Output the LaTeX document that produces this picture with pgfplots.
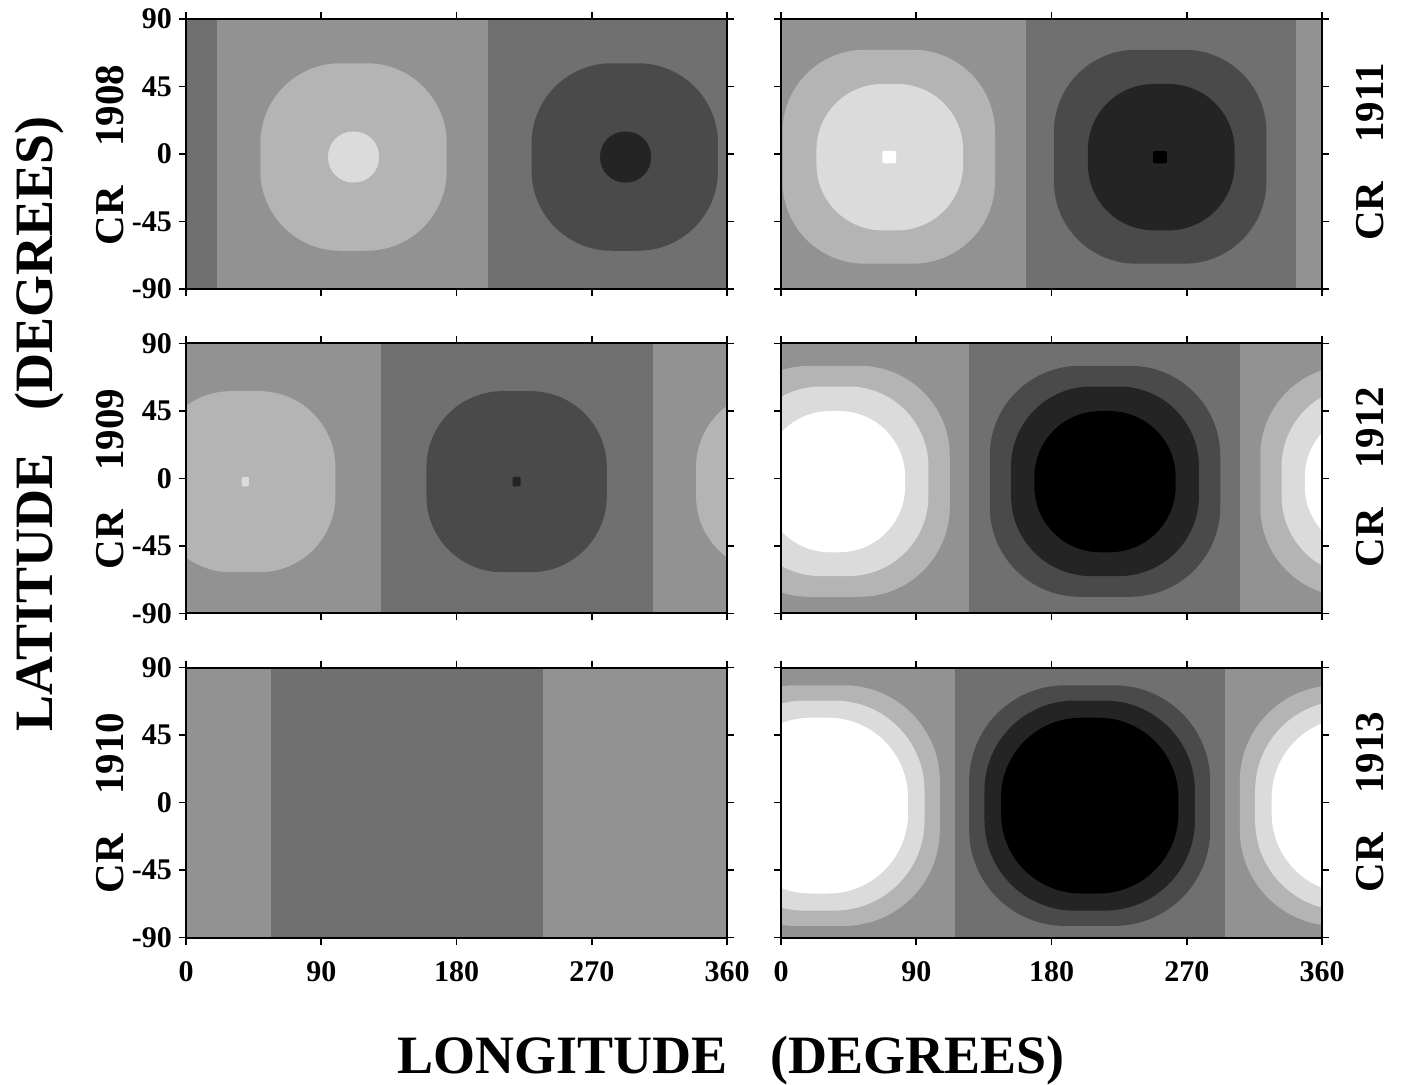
\documentclass[border=0pt]{standalone}
\usepackage{pgfplots}
\pgfplotsset{compat=1.18}
\usepackage{fontspec}
\setmainfont{Liberation Serif}
\definecolor{gA}{gray}{0.44}
\definecolor{gB}{gray}{0.573}
\definecolor{gC}{gray}{0.706}
\definecolor{gD}{gray}{0.86}
\definecolor{gE}{gray}{0.29}
\definecolor{gF}{gray}{0.14}
\newcommand{\rr}[3]{\addplot[draw=none, fill=#1, rounded corners=#2] coordinates {#3};}
\newcommand{\band}[2]{\addplot[draw=none, fill=#1] coordinates {#2};}
\pgfplotsset{
 panel/.style={scale only axis, width=270.5pt, height=135pt,
   xmin=0, xmax=360, ymin=-90, ymax=90,
   xtick={0,90,180,270,360}, ytick={-90,-45,0,45,90},
   xticklabels={}, yticklabels={},
   tick align=outside, major tick length=3.5pt, axis on top,
   axis line style={line width=0.9pt},
   every tick/.style={black, line width=0.8pt},
   tick label style={font=\bfseries\fontsize{15}{17}\selectfont},
   xticklabel style={yshift=-5pt},
   anchor=south west},
 xlab/.style={xticklabels={0,90,180,270,360}},
 ylab/.style={yticklabels={-90,-45,0,45,90}},
}
\begin{document}
\begin{tikzpicture}
\path (0,0) rectangle (704pt,-542pt);
% ---------- CR 1908 ----------
\begin{axis}[panel, ylab, at={(93pt,-144.5pt)}, axis background/.style={fill=gA}]
\band{gB}{(20.5,-90)(201,-90)(201,90)(20.5,90)}
\rr{gC}{40pt}{(111.5,-64.5)(173.5,-64.5)(173.5,60.5)(49.5,60.5)(49.5,-64.5)(111.5,-64.5)}
\rr{gD}{12.5pt}{(111.5,-19)(128.5,-19)(128.5,15)(94.5,15)(94.5,-19)(111.5,-19)}
\rr{gE}{40pt}{(292,-64.5)(354,-64.5)(354,60.5)(230,60.5)(230,-64.5)(292,-64.5)}
\rr{gF}{12.5pt}{(292.5,-19)(309.5,-19)(309.5,15)(275.5,15)(275.5,-19)(292.5,-19)}
\end{axis}
% ---------- CR 1911 ----------
\begin{axis}[panel, at={(390.5pt,-144.5pt)}, axis background/.style={fill=gB}]
\band{gA}{(162.7,-90)(343,-90)(343,90)(162.7,90)}
\rr{gC}{41pt}{(71.7,-73.1)(142.4,-73.1)(142.4,69.5)(1.0,69.5)(1.0,-73.1)(71.7,-73.1)}
\rr{gD}{33pt}{(72.4,-50.9)(121.2,-50.9)(121.2,46.7)(23.6,46.7)(23.6,-50.9)(72.4,-50.9)}
\rr{white}{1pt}{(72,-6.3)(76.6,-6.3)(76.6,2.1)(67.4,2.1)(67.4,-6.3)(72,-6.3)}
\rr{gE}{41pt}{(252.3,-73.1)(323.0,-73.1)(323.0,69.5)(181.6,69.5)(181.6,-73.1)(252.3,-73.1)}
\rr{gF}{33pt}{(253,-50.9)(301.8,-50.9)(301.8,46.7)(204.2,46.7)(204.2,-50.9)(253,-50.9)}
\rr{black}{1pt}{(252.2,-6.3)(256.8,-6.3)(256.8,2.1)(247.6,2.1)(247.6,-6.3)(252.2,-6.3)}
\end{axis}
% ---------- CR 1909 ----------
\begin{axis}[panel, ylab, at={(93pt,-306.65pt)}, axis background/.style={fill=gB}]
\band{gA}{(129.7,-90)(310.6,-90)(310.6,90)(129.7,90)}
\rr{gC}{38pt}{(39.4,-62.6)(99.4,-62.6)(99.4,58.1)(-20.6,58.1)(-20.6,-62.6)(39.4,-62.6)}
\rr{gC}{38pt}{(399.4,-62.6)(459.4,-62.6)(459.4,58.1)(339.4,58.1)(339.4,-62.6)(399.4,-62.6)}
\rr{gD}{0.5pt}{(39.4,-5.4)(41.8,-5.4)(41.8,0.9)(37,0.9)(37,-5.4)(39.4,-5.4)}
\rr{gE}{38pt}{(220,-62.6)(280,-62.6)(280,58.1)(160,58.1)(160,-62.6)(220,-62.6)}
\rr{gF}{0.5pt}{(220,-5.4)(222.6,-5.4)(222.6,0.9)(217.4,0.9)(217.4,-5.4)(220,-5.4)}
\end{axis}
% ---------- CR 1912 ----------
\begin{axis}[panel, at={(390.5pt,-306.65pt)}, axis background/.style={fill=gB}]
\band{gA}{(125,-90)(305.4,-90)(305.4,90)(125,90)}
\rr{gC}{45pt}{(35.6,-79)(112.3,-79)(112.3,75)(-41.1,75)(-41.1,-79)(35.6,-79)}
\rr{gD}{40pt}{(35.6,-65.2)(98.1,-65.2)(98.1,61.2)(-26.9,61.2)(-26.9,-65.2)(35.6,-65.2)}
\rr{white}{33pt}{(35.6,-49.3)(82.6,-49.3)(82.6,44.8)(-11.4,44.8)(-11.4,-49.3)(35.6,-49.3)}
\rr{gC}{45pt}{(395.6,-79)(472.3,-79)(472.3,75)(318.9,75)(318.9,-79)(395.6,-79)}
\rr{gD}{40pt}{(395.6,-65.2)(458.1,-65.2)(458.1,61.2)(333.1,61.2)(333.1,-65.2)(395.6,-65.2)}
\rr{white}{33pt}{(395.6,-49.3)(442.6,-49.3)(442.6,44.8)(348.6,44.8)(348.6,-49.3)(395.6,-49.3)}
\rr{gE}{45pt}{(215.6,-79)(292.3,-79)(292.3,75)(138.9,75)(138.9,-79)(215.6,-79)}
\rr{gF}{40pt}{(215.6,-65.2)(278.1,-65.2)(278.1,61.2)(153.1,61.2)(153.1,-65.2)(215.6,-65.2)}
\rr{black}{33pt}{(215.6,-49.3)(262.6,-49.3)(262.6,44.8)(168.6,44.8)(168.6,-49.3)(215.6,-49.3)}
\end{axis}
% ---------- CR 1910 ----------
\begin{axis}[panel, xlab, ylab, at={(93pt,-468.8pt)}, axis background/.style={fill=gB}]
\band{gA}{(56.6,-90)(237.4,-90)(237.4,90)(56.6,90)}
\end{axis}
% ---------- CR 1913 ----------
\begin{axis}[panel, xlab, at={(390.5pt,-468.8pt)}, axis background/.style={fill=gB}]
\band{gA}{(115.5,-90)(295.2,-90)(295.2,90)(115.5,90)}
\rr{gC}{48pt}{(25.5,-82.2)(105.7,-82.2)(105.7,78.2)(-54.7,78.2)(-54.7,-82.2)(25.5,-82.2)}
\rr{gD}{45pt}{(25.5,-72)(95.5,-72)(95.5,68)(-44.5,68)(-44.5,-72)(25.5,-72)}
\rr{white}{40pt}{(25.5,-60.6)(84.5,-60.6)(84.5,56.6)(-33.5,56.6)(-33.5,-60.6)(25.5,-60.6)}
\rr{gC}{48pt}{(385.5,-82.2)(465.7,-82.2)(465.7,78.2)(305.3,78.2)(305.3,-82.2)(385.5,-82.2)}
\rr{gD}{45pt}{(385.5,-72)(455.5,-72)(455.5,68)(315.5,68)(315.5,-72)(385.5,-72)}
\rr{white}{40pt}{(385.5,-60.6)(444.5,-60.6)(444.5,56.6)(326.5,56.6)(326.5,-60.6)(385.5,-60.6)}
\rr{gE}{48pt}{(205.4,-82.2)(285.6,-82.2)(285.6,78.2)(125.2,78.2)(125.2,-82.2)(205.4,-82.2)}
\rr{gF}{45pt}{(205.4,-72)(275.4,-72)(275.4,68)(135.4,68)(135.4,-72)(205.4,-72)}
\rr{black}{40pt}{(205.4,-60.6)(264.4,-60.6)(264.4,56.6)(146.4,56.6)(146.4,-60.6)(205.4,-60.6)}
\end{axis}
% ---------- labels ----------
\begin{scope}[every node/.style={font=\bfseries\fontsize{20.5}{24}\selectfont, rotate=90, anchor=base, inner sep=0pt}]
\node at (61.5pt,-77.5pt) {CR\hspace{0.95em}1908};
\node at (61.5pt,-239.5pt) {CR\hspace{0.95em}1909};
\node at (61.5pt,-401.5pt) {CR\hspace{0.95em}1910};
\node at (691.5pt,-76pt) {CR\hspace{0.95em}1911};
\node at (691.5pt,-238.5pt) {CR\hspace{0.95em}1912};
\node at (691.5pt,-401pt) {CR\hspace{0.95em}1913};
\end{scope}
\node[font=\bfseries\fontsize{27}{32}\selectfont, rotate=90, anchor=base, inner sep=0pt] at (26.5pt,-212pt) {LATITUDE\hspace{0.8em}(DEGREES)};
\node[font=\bfseries\fontsize{27}{32}\selectfont, anchor=base, inner sep=0pt] at (365.5pt,-536.5pt) {LONGITUDE\hspace{0.8em}(DEGREES)};
\end{tikzpicture}
\end{document}
